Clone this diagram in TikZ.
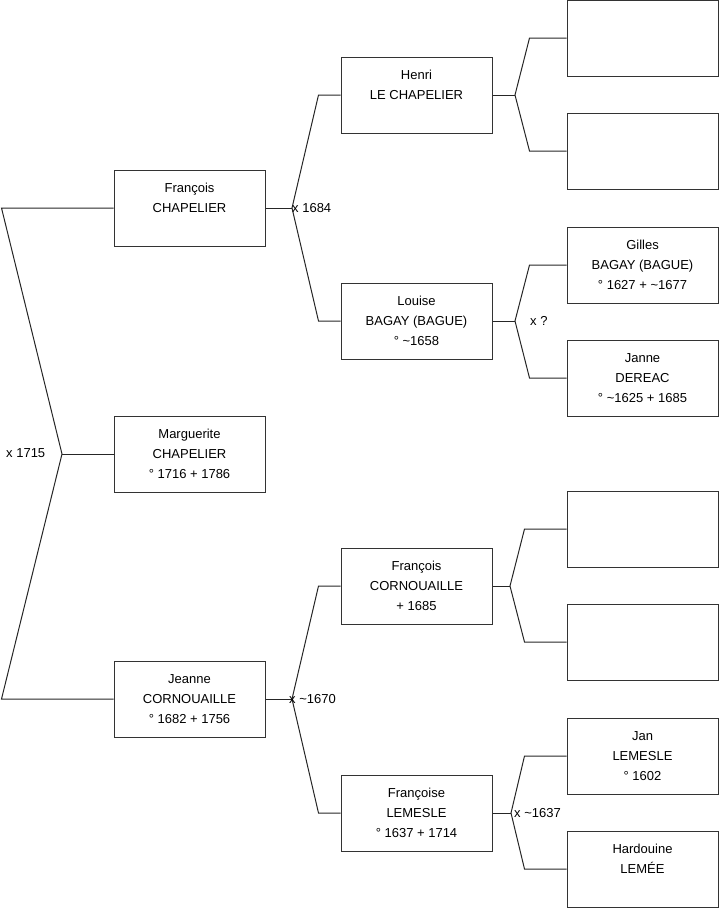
\documentclass[tikz,border=0pt]{standalone}
\usepackage{fontspec}
\setmainfont{Liberation Sans}
\newcommand{\tld}{\textasciitilde}
\newcommand{\who}[3]{\strut#1\\#2\\#3\strut}

\begin{document}
\begin{tikzpicture}[x=1pt,y=-1pt,
  person/.style={draw=black!80, line width=1pt, minimum width=151pt, minimum height=76pt,
    inner sep=0pt, align=center, font=\fontsize{13}{20}\selectfont},
  link/.style={draw=black!85, line width=1pt},
  union/.style={anchor=west, inner sep=0pt, font=\fontsize{13}{16}\selectfont}]
\useasboundingbox (0,0) rectangle (719,908);

% generation 1
\node[person] (fc) at (189.5,208) {\who{François}{CHAPELIER}{}};
\node[person] (mc) at (189.5,454) {\who{Marguerite}{CHAPELIER}{° 1716 + 1786}};
\node[person] (jc) at (189.5,699) {\who{Jeanne}{CORNOUAILLE}{° 1682 + 1756}};

% generation 2
\node[person] (henri) at (416.5,95) {\who{Henri}{LE CHAPELIER}{}};
\node[person] (louise) at (416.5,321) {\who{Louise}{BAGAY (BAGUE)}{° \tld1658}};
\node[person] (fcor) at (416.5,586) {\who{François}{CORNOUAILLE}{+ 1685}};
\node[person] (flem) at (416.5,813) {\who{Françoise}{LEMESLE}{° 1637 + 1714}};

% generation 3
\node[person] (hp1) at (642.5,38) {};
\node[person] (hp2) at (642.5,151) {};
\node[person] (gilles) at (642.5,265) {\who{Gilles}{BAGAY (BAGUE)}{° 1627 + \tld1677}};
\node[person] (janne) at (642.5,378) {\who{Janne}{DEREAC}{° \tld1625 + 1685}};
\node[person] (cp1) at (642.5,529) {};
\node[person] (cp2) at (642.5,642) {};
\node[person] (jan) at (642.5,756) {\who{Jan}{LEMESLE}{° 1602}};
\node[person] (hard) at (642.5,869) {\who{Hardouine}{LEMÉE}{}};

% unions
\coordinate (m1715) at (62,454);
\coordinate (m1684) at (292,208);
\coordinate (m1670) at (292,699);
\coordinate (mhenri) at (515,95);
\coordinate (mlouise) at (515,321);
\coordinate (mfcor) at (510,586);
\coordinate (mflem) at (511,813);

\draw[link] (fc.west) -- ([xshift=-112pt]fc.west) -- (m1715) -- ([xshift=-112pt]jc.west) -- (jc.west);
\draw[link] (m1715) -- (mc.west);
\node[union] (l1715) at (6,453) {x 1715};

\draw[link] (fc.east) -- (m1684);
\draw[link] (henri.west) -- ([xshift=-22pt]henri.west) -- (m1684) -- ([xshift=-22pt]louise.west) -- (louise.west);
\node[union] (l1684) at (292,208) {x 1684};

\draw[link] (jc.east) -- (m1670);
\draw[link] (fcor.west) -- ([xshift=-22pt]fcor.west) -- (m1670) -- ([xshift=-22pt]flem.west) -- (flem.west);
\node[union] (l1670) at (289,699) {x \tld1670};

\draw[link] (henri.east) -- (mhenri);
\draw[link] (hp1.west) -- ([xshift=-37pt]hp1.west) -- (mhenri) -- ([xshift=-37pt]hp2.west) -- (hp2.west);

\draw[link] (louise.east) -- (mlouise);
\draw[link] (gilles.west) -- ([xshift=-37pt]gilles.west) -- (mlouise) -- ([xshift=-37pt]janne.west) -- (janne.west);
\node[union] (llouise) at (530,321) {x ?};

\draw[link] (fcor.east) -- (mfcor);
\draw[link] (cp1.west) -- ([xshift=-42pt]cp1.west) -- (mfcor) -- ([xshift=-42pt]cp2.west) -- (cp2.west);

\draw[link] (flem.east) -- (mflem);
\draw[link] (jan.west) -- ([xshift=-42pt]jan.west) -- (mflem) -- ([xshift=-42pt]hard.west) -- (hard.west);
\node[union] (lflem) at (514,813) {x \tld1637};
\end{tikzpicture}
\end{document}
